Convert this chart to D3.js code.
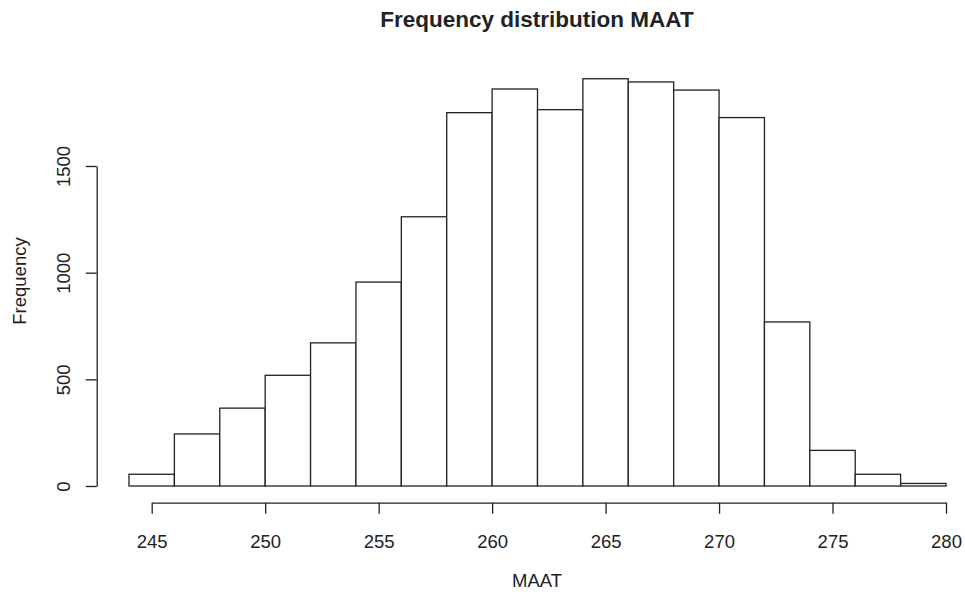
<!DOCTYPE html>
<html>
<head>
<meta charset="utf-8">
<script src="https://cdn.jsdelivr.net/npm/d3@7"></script>
<style>
  body { margin: 0; background: #fff; }
  svg { display: block; }
  text { font-family: "Liberation Sans", Arial, sans-serif; fill: #222; }
</style>
</head>
<body>
<svg id="chart" width="965" height="596"></svg>
<script>
// Histogram bin edges (MAAT) and counts
const binStarts = [244, 246, 248, 250, 252, 254, 256, 258, 260, 262, 264, 266, 268, 270, 272, 274, 276, 278];
const binWidth = 2;
const counts = [55, 244, 365, 519, 671, 956, 1262, 1750, 1861, 1764, 1909, 1894, 1856, 1727, 769, 167, 55, 12];
const xTicks = [245, 250, 255, 260, 265, 270, 275, 280];
const yTicks = [0, 500, 1000, 1500];
const title = "Frequency distribution MAAT";
const xLabel = "MAAT";
const yLabel = "Frequency";

const svg = d3.select("#chart");
const stroke = "#222";

const x = d3.scaleLinear().domain([245, 280]).range([151.7, 946]);
const y = d3.scaleLinear().domain([0, 1500]).range([486, 166]);

// bars
svg.append("g").selectAll("rect")
  .data(binStarts.map((s, i) => ({ s, c: counts[i] })))
  .join("rect")
  .attr("x", d => x(d.s))
  .attr("width", d => x(d.s + binWidth) - x(d.s))
  .attr("y", d => y(d.c))
  .attr("height", d => y(0) - y(d.c))
  .attr("fill", "#fff")
  .attr("stroke", stroke)
  .attr("stroke-width", 1.3);

// x axis
const xAxis = svg.append("g")
  .attr("transform", "translate(0,502.7)")
  .call(d3.axisBottom(x).tickValues(xTicks).tickSize(11).tickSizeOuter(0).tickFormat(d3.format("d")));
xAxis.selectAll("path, line").attr("stroke", stroke).attr("stroke-width", 1.3);
xAxis.selectAll("text")
  .attr("y", 0).attr("dy", null)
  .attr("transform", "translate(0,39)")
  .attr("dominant-baseline", "central")
  .style("font-size", "18.5px").style("font-family", "'Liberation Sans', Arial, sans-serif").attr("fill", "#222");

// y axis
const yAxis = svg.append("g")
  .attr("transform", "translate(96.7,0)")
  .call(d3.axisLeft(y).tickValues(yTicks).tickSize(11).tickSizeOuter(0).tickFormat(d3.format("d")));
yAxis.selectAll("path, line").attr("stroke", stroke).attr("stroke-width", 1.3);
yAxis.selectAll(".tick text")
  .attr("x", 0).attr("dy", null)
  .attr("text-anchor", "middle")
  .attr("dominant-baseline", "central")
  .attr("transform", "translate(-33,0) rotate(-90)")
  .style("font-size", "18.5px").style("font-family", "'Liberation Sans', Arial, sans-serif").attr("fill", "#222");

// title
svg.append("text")
  .attr("x", 537).attr("y", 19)
  .attr("text-anchor", "middle")
  .attr("dominant-baseline", "central")
  .style("font-size", "22.5px").style("font-weight", "bold")
  .attr("fill", "#111")
  .text(title);

// axis labels
svg.append("text")
  .attr("x", 537).attr("y", 580.5)
  .attr("text-anchor", "middle")
  .attr("dominant-baseline", "central")
  .style("font-size", "18.5px")
  .text(xLabel);

svg.append("text")
  .attr("transform", "translate(19,281) rotate(-90)")
  .attr("text-anchor", "middle")
  .attr("dominant-baseline", "central")
  .style("font-size", "18.5px")
  .text(yLabel);
</script>
</body>
</html>
